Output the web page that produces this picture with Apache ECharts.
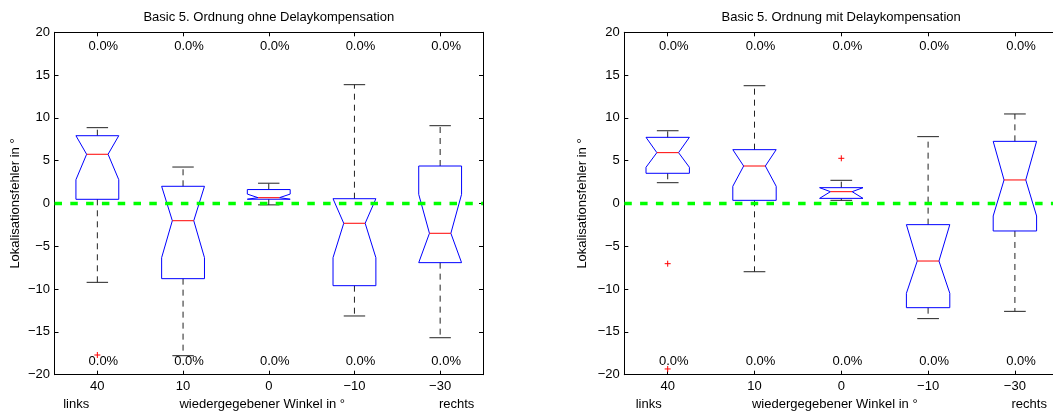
<!DOCTYPE html>
<html>
<head>
<meta charset="utf-8">
<script src="https://cdn.jsdelivr.net/npm/echarts@6/dist/echarts.min.js"></script>
<style>
html,body{margin:0;padding:0;background:#fff;}
#chart{width:1053px;height:411px;}
</style>
</head>
<body>
<div id="chart"></div>
<script>
// ---- data ----
const categories = ['40', '10', '0', '\u221210', '\u221230'];

const leftWhiskerLow  = [-9.21, -17.78, -0.16, -13.14, -15.68];
const leftQ1          = [0.49, -8.78, 0.50, -9.60, -6.91];
const leftNotchLow    = [2.78, -6.33, 0.50, -6.33, -6.91];
const leftMedian      = [5.75, -2.01, 0.68, -2.31, -3.48];
const leftNotchHigh   = [7.92, 2.01, 1.10, 0.56, 1.07];
const leftQ3          = [7.92, 2.01, 1.63, 0.56, 4.38];
const leftWhiskerHigh = [8.86, 4.26, 2.37, 13.88, 9.09];
const leftOutliers    = [[0, -17.7]];

const rightWhiskerLow  = [2.43, -7.97, 0.37, -13.45, -12.60];
const rightQ1          = [3.53, 0.37, 0.60, -12.17, -3.21];
const rightNotchLow    = [4.23, 2.01, 0.60, -10.49, -1.46];
const rightMedian      = [5.94, 4.38, 1.38, -6.72, 2.75];
const rightNotchHigh   = [7.73, 6.29, 1.85, -2.47, 7.26];
const rightQ3          = [7.73, 6.29, 1.85, -2.47, 7.26];
const rightWhiskerHigh = [8.50, 13.76, 2.71, 7.81, 10.46];
const rightOutliers    = [[0, -7.03], [0, -19.33], [2, 5.28]];

const topPercent    = ['0.0%', '0.0%', '0.0%', '0.0%', '0.0%'];
const bottomPercent = ['0.0%', '0.0%', '0.0%', '0.0%', '0.0%'];

const yTicksMin = -20, yTicksMax = 20, yTickStep = 5;
const titles = ['Basic 5. Ordnung ohne Delaykompensation', 'Basic 5. Ordnung mit Delaykompensation'];
const yName = 'Lokalisationsfehler in \u00b0';
const xName = 'links' + ' '.repeat(25) + 'wiedergegebener Winkel in \u00b0' + ' '.repeat(26) + 'rechts';

// ---- build ----
const FONT = "'Liberation Sans', Arial, Helvetica, sans-serif";
const minus = v => String(v).replace('-', '\u2212');

function boxRows(wl, q1, n2, med, n1, q3, wh) {
  return categories.map((c, i) => [i, wl[i], q1[i], n2[i], med[i], n1[i], q3[i], wh[i]]);
}

function renderBox(params, api) {
  const i = api.value(0);
  const wl = api.value(1), q1 = api.value(2), n2 = api.value(3), med = api.value(4),
        n1 = api.value(5), q3 = api.value(6), wh = api.value(7);
  const band = api.size([1, 0])[0];
  const hw = band * 0.25, nw = hw * 0.5, cw = band * 0.125;
  const x = api.coord([i, med])[0];
  const y = v => api.coord([i, v])[1];
  const whiskStyle = {stroke: '#222', lineWidth: 1, lineDash: [6, 5]};
  const capStyle = {stroke: '#222', lineWidth: 1};
  return {
    type: 'group',
    children: [
      {type: 'line', shape: {x1: x, y1: y(q3), x2: x, y2: y(wh)}, style: whiskStyle},
      {type: 'line', shape: {x1: x, y1: y(q1), x2: x, y2: y(wl)}, style: whiskStyle},
      {type: 'line', shape: {x1: x - cw, y1: y(wh), x2: x + cw, y2: y(wh)}, style: capStyle},
      {type: 'line', shape: {x1: x - cw, y1: y(wl), x2: x + cw, y2: y(wl)}, style: capStyle},
      {type: 'polygon', shape: {points: [
        [x - hw, y(q3)], [x + hw, y(q3)], [x + hw, y(n1)], [x + nw, y(med)], [x + hw, y(n2)],
        [x + hw, y(q1)], [x - hw, y(q1)], [x - hw, y(n2)], [x - nw, y(med)], [x - hw, y(n1)]
      ]}, style: {fill: 'none', stroke: '#0000ff', lineWidth: 1}},
      {type: 'line', shape: {x1: x - nw, y1: y(med), x2: x + nw, y2: y(med)}, style: {stroke: '#ff0000', lineWidth: 1}}
    ]
  };
}

function renderOutlier(params, api) {
  const p = api.coord([api.value(0), api.value(1)]);
  const s = 3;
  const st = {stroke: '#ff0000', lineWidth: 1};
  return {type: 'group', children: [
    {type: 'line', shape: {x1: p[0] - s, y1: p[1], x2: p[0] + s, y2: p[1]}, style: st},
    {type: 'line', shape: {x1: p[0], y1: p[1] - s, x2: p[0], y2: p[1] + s}, style: st}
  ]};
}

function renderZero(params, api) {
  const cs = params.coordSys;
  const y0 = api.coord([0, 0])[1];
  return {type: 'line', shape: {x1: cs.x, y1: y0, x2: cs.x + cs.width, y2: y0},
          style: {stroke: '#00ff00', lineWidth: 3.4, lineDash: [7.5, 8.3]}};
}

function makeTextRenderer(texts) {
  return function (params, api) {
    const i = api.value(0);
    const band = api.size([1, 0])[0];
    const p = api.coord([i, api.value(1)]);
    return {type: 'text', style: {text: texts[params.dataIndex], x: p[0] + band * 0.07, y: p[1],
            align: 'center', verticalAlign: 'middle', fontSize: 13, fontFamily: FONT, fill: '#000'}};
  };
}

const grids = [
  {left: 54.5, width: 428.5, top: 32.3, height: 342.4, containLabel: false, outerBoundsMode: 'none'},
  {left: 624.3, width: 434, top: 32.3, height: 342.4, containLabel: false, outerBoundsMode: 'none'}
];

const xAxes = [], yAxes = [], series = [];
[0, 1].forEach(g => {
  xAxes.push({
    gridIndex: g, type: 'category', data: categories, position: 'bottom', boundaryGap: true,
    axisLine: {show: true, onZero: false, lineStyle: {color: '#000', width: 1}},
    axisTick: {show: true, inside: true, length: 4, alignWithLabel: true, lineStyle: {color: '#000'}},
    axisLabel: {color: '#000', fontSize: 13, fontFamily: FONT, margin: 5, interval: 0},
    splitLine: {show: false},
    name: xName, nameLocation: 'middle', nameGap: 20,
    nameTextStyle: {color: '#000', fontSize: 13, fontFamily: FONT}
  });
  xAxes.push({
    gridIndex: g, type: 'category', data: categories, position: 'top', boundaryGap: true,
    axisLine: {show: true, onZero: false, lineStyle: {color: '#000', width: 1}},
    axisTick: {show: true, inside: true, length: 4, alignWithLabel: true, lineStyle: {color: '#000'}},
    axisLabel: {show: false}, splitLine: {show: false}
  });
  yAxes.push({
    gridIndex: g, type: 'value', min: yTicksMin, max: yTicksMax, interval: yTickStep, position: 'left',
    axisLine: {show: true, onZero: false, lineStyle: {color: '#000', width: 1}},
    axisTick: {show: true, inside: true, length: 4, lineStyle: {color: '#000'}},
    axisLabel: {color: '#000', fontSize: 13, fontFamily: FONT, margin: 4.5, formatter: minus},
    splitLine: {show: false},
    name: yName, nameLocation: 'middle', nameGap: g === 0 ? 33 : 35, nameRotate: 90,
    nameTextStyle: {color: '#000', fontSize: 13, fontFamily: FONT}
  });
  yAxes.push({
    gridIndex: g, type: 'value', min: yTicksMin, max: yTicksMax, interval: yTickStep, position: 'right',
    axisLine: {show: true, onZero: false, lineStyle: {color: '#000', width: 1}},
    axisTick: {show: true, inside: true, length: 4, lineStyle: {color: '#000'}},
    axisLabel: {show: false}, splitLine: {show: false}
  });
});

const boxData = [
  boxRows(leftWhiskerLow, leftQ1, leftNotchLow, leftMedian, leftNotchHigh, leftQ3, leftWhiskerHigh),
  boxRows(rightWhiskerLow, rightQ1, rightNotchLow, rightMedian, rightNotchHigh, rightQ3, rightWhiskerHigh)
];
const outlierData = [leftOutliers, rightOutliers];

[0, 1].forEach(g => {
  const xi = g * 2, yi = g * 2;
  series.push({type: 'custom', xAxisIndex: xi, yAxisIndex: yi, renderItem: renderBox,
    data: boxData[g], encode: {x: 0, y: [1, 2, 3, 4, 5, 6, 7]}, z: 2, silent: true});
  series.push({type: 'custom', xAxisIndex: xi, yAxisIndex: yi, renderItem: renderOutlier,
    data: outlierData[g], encode: {x: 0, y: 1}, z: 3, silent: true});
  series.push({type: 'custom', xAxisIndex: xi, yAxisIndex: yi, renderItem: renderZero,
    data: [[0, 0]], encode: {x: 0, y: 1}, z: 4, silent: true});
  series.push({type: 'custom', xAxisIndex: xi, yAxisIndex: yi, renderItem: makeTextRenderer(topPercent),
    data: topPercent.map((t, i) => [i, 18.32]), encode: {x: 0, y: 1}, z: 5, silent: true});
  series.push({type: 'custom', xAxisIndex: xi, yAxisIndex: yi, renderItem: makeTextRenderer(bottomPercent),
    data: bottomPercent.map((t, i) => [i, -18.48]), encode: {x: 0, y: 1}, z: 5, silent: true});
});

const option = {
  animation: false,
  backgroundColor: '#fff',
  title: [
    {text: titles[0], left: 268.8, top: 11, padding: 0, textAlign: 'center',
     textStyle: {color: '#000', fontSize: 13, fontWeight: 'normal', fontFamily: FONT}},
    {text: titles[1], left: 841.2, top: 11, padding: 0, textAlign: 'center',
     textStyle: {color: '#000', fontSize: 13, fontWeight: 'normal', fontFamily: FONT}}
  ],
  grid: grids,
  xAxis: xAxes,
  yAxis: yAxes,
  series: series
};

const chart = echarts.init(document.getElementById('chart'), null, {renderer: 'canvas'});
chart.setOption(option);
</script>
</body>
</html>
